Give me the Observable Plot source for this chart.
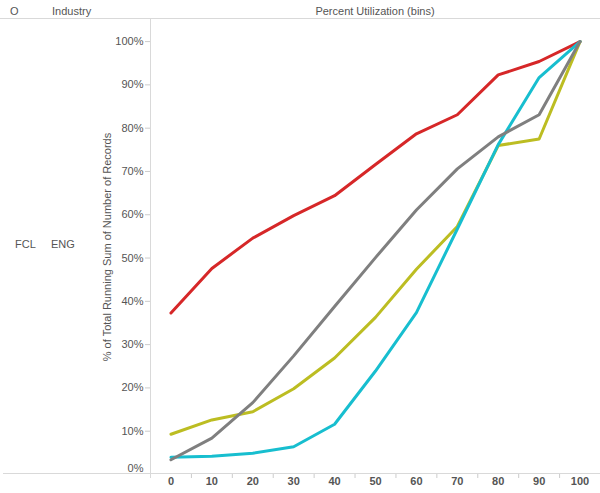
<!DOCTYPE html>
<html>
<head>
<meta charset="utf-8">
<script src="https://cdn.jsdelivr.net/npm/d3@7"></script>
<script src="https://cdn.jsdelivr.net/npm/@observablehq/plot@0.6"></script>
<style>
  html, body { margin: 0; padding: 0; background: #fff; }
  #wrap { position: relative; width: 600px; height: 493px; font-family: "Liberation Sans", Arial, sans-serif; font-size: 11px; color: #555; overflow: hidden; }
  .hdr { position: absolute; top: 5px; white-space: nowrap; }
  .row { position: absolute; top: 238px; white-space: nowrap; }
  .line { position: absolute; background: #d9d9d9; }
  #chart { position: absolute; left: 0; top: 19px; }
</style>
</head>
<body>
<div id="wrap">
  <div class="hdr" style="left:10px">O</div>
  <div class="hdr" style="left:52px">Industry</div>
  <div class="hdr" style="left:150px;width:450px;text-align:center">Percent Utilization (bins)</div>
  <div class="line" style="left:0;top:18px;width:600px;height:1px"></div>
  <div class="row" style="left:15px">FCL</div>
  <div class="row" style="left:51px">ENG</div>
  <div id="chart"></div>
  <div class="line" style="left:150px;top:18px;width:1px;height:460px"></div>
  <div class="line" style="left:3px;top:473px;width:597px;height:1px"></div>
</div>
<script>
// Percent Utilization bins
const bins = [0, 10, 20, 30, 40, 50, 60, 70, 80, 90, 100];
// % of total running sum of number of records, one array per series
const series1 = [37.3, 47.6, 54.6, 59.8, 64.4, 71.6, 78.7, 83.1, 92.3, 95.4, 100];
const series2 = [9.3, 12.6, 14.5, 19.8, 26.9, 36.3, 47.4, 57.3, 76.0, 77.5, 100];
const series3 = [4.0, 4.2, 4.9, 6.4, 11.6, 23.9, 37.4, 56.7, 76.2, 91.7, 100];
const series4 = [3.4, 8.4, 16.6, 27.4, 38.8, 50.1, 61.1, 70.6, 78.0, 83.1, 100];
const seriesNames = ["Series 1", "Series 2", "Series 3", "Series 4"];
const seriesColors = ["#d62728", "#bcbd22", "#17becf", "#7f7f7f"];
const yTicks = [0, 10, 20, 30, 40, 50, 60, 70, 80, 90, 100];
const yTitle = "% of Total Running Sum of Number of Records";

const seriesValues = [series1, series2, series3, series4];
const rows = [];
seriesNames.forEach((name, i) => {
  bins.forEach((b, j) => rows.push({series: name, bin: b, value: seriesValues[i][j]}));
});
const binEdges = bins.map(b => b - 5);

const chart = Plot.plot({
  width: 600,
  height: 474,
  marginLeft: 150,
  marginRight: 0,
  marginTop: 0,
  marginBottom: 19,
  style: {fontFamily: "'Liberation Sans', Arial, sans-serif", fontSize: "11px", overflow: "visible", background: "transparent"},
  x: {domain: [-5, 105], axis: null},
  y: {domain: [0, 105.1], axis: null},
  color: {domain: seriesNames, range: seriesColors},
  marks: [
    Plot.axisY({ticks: yTicks.slice(1), tickFormat: d => d + "%", tickSize: 5, tickPadding: 2, stroke: "#cccccc", fill: "#555", label: null}),
    Plot.text(yTicks.slice(0, 1), {frameAnchor: "left", y: d => d, text: d => d + "%", dx: -7, dy: -6, textAnchor: "end", fill: "#555"}),
    Plot.axisX({ticks: binEdges, tickSize: 4, tickFormat: () => "", stroke: "#cccccc", label: null}),
    Plot.axisX({ticks: bins, tickSize: 0, tickPadding: 3, tickFormat: d => String(d), fill: "#555", fontWeight: "bold", label: null}),
    Plot.text([yTitle], {frameAnchor: "left", textAnchor: "middle", lineAnchor: "middle", rotate: -90, dx: -43, fill: "#555", text: d => d}),
    Plot.lineY(rows, {x: "bin", y: "value", z: "series", stroke: "series", strokeWidth: 3, strokeLinejoin: "round", strokeLinecap: "round"})
  ]
});
document.getElementById("chart").appendChild(chart);
</script>
</body>
</html>
